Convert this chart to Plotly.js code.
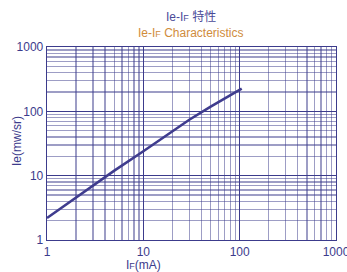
<!DOCTYPE html>
<html>
<head>
<meta charset="utf-8">
<script src="https://cdn.plot.ly/plotly-3.0.1.min.js"></script>
<style>html,body{margin:0;padding:0;background:#fff}#chart{width:347px;height:272px}</style>
</head>
<body>
<div id="chart"></div>
<script>
var currentIF = [1, 2, 5, 10, 20, 30, 50, 100, 105];
var intensityIe = [2.2, 4.6, 12, 24, 48, 74, 118, 218, 226];
var majorTicks = [1, 10, 100, 1000];
var majorLabels = ['1', '10', '100', '1000'];
var minorTicks = [2,3,4,5,6,7,8,9,20,30,40,50,60,70,80,90,200,300,400,500,600,700,800,900];

var ink = '#3c3b8c';
var trace = {
  x: currentIF, y: intensityIe, type: 'scatter', mode: 'lines',
  line: {color: '#3f3c8e', width: 2.6}, hoverinfo: 'none'
};
function axis() {
  return {
    type: 'log', tickmode: 'array', tickvals: majorTicks, ticktext: majorLabels,
    showgrid: true, gridcolor: ink, gridwidth: 1.2,
    showline: true, linecolor: ink, linewidth: 1.3, mirror: true,
    ticks: '', zeroline: false, ticklabeloverflow: 'allow',
    tickfont: {family: 'Liberation Sans, Arial, sans-serif', size: 12, color: ink},
    minor: {tickmode: 'array', tickvals: minorTicks, showgrid: true,
            gridcolor: 'rgba(60,59,140,0.5)', gridwidth: 1.2, ticks: ''}
  };
}
var xa = axis(); xa.range = [0, 3];
var ya = axis(); ya.range = [0, 3];
var pw = 347 - 47 - 11, ph = 272 - 47 - 32;
function px(x) { return (x - 47) / pw; }
function py(y) { return (272 - 32 - y) / ph; }
var layout = {
  width: 347, height: 272,
  margin: {l: 47, r: 11, t: 47, b: 32},
  paper_bgcolor: '#ffffff', plot_bgcolor: '#ffffff',
  showlegend: false,
  xaxis: xa, yaxis: ya,
  annotations: [
    {text: 'Ie-I<span style="font-size:9px">F</span> 特性', xref: 'paper', yref: 'paper',
     x: px(191), y: py(16), xanchor: 'center', yanchor: 'middle', showarrow: false,
     font: {family: 'Liberation Sans, Noto Sans CJK SC, sans-serif', size: 12, color: '#4a4a98'}},
    {text: 'Ie-I<span style="font-size:9px">F</span> Characteristics', xref: 'paper', yref: 'paper',
     x: px(191), y: py(33), xanchor: 'center', yanchor: 'middle', showarrow: false,
     font: {family: 'Liberation Sans, sans-serif', size: 12, color: '#d08c3c'}},
    {text: 'I<span style="font-size:9px">F</span>(mA)', xref: 'paper', yref: 'paper',
     x: px(143), y: py(265), xanchor: 'center', yanchor: 'middle', showarrow: false,
     font: {family: 'Liberation Sans, sans-serif', size: 12, color: ink}},
    {text: 'Ie(mw/sr)', xref: 'paper', yref: 'paper', textangle: -90,
     x: px(17), y: py(141), xanchor: 'center', yanchor: 'middle', showarrow: false,
     font: {family: 'Liberation Sans, sans-serif', size: 12, color: ink}}
  ]
};
Plotly.newPlot('chart', [trace], layout, {staticPlot: true, displayModeBar: false});
</script>
</body>
</html>
